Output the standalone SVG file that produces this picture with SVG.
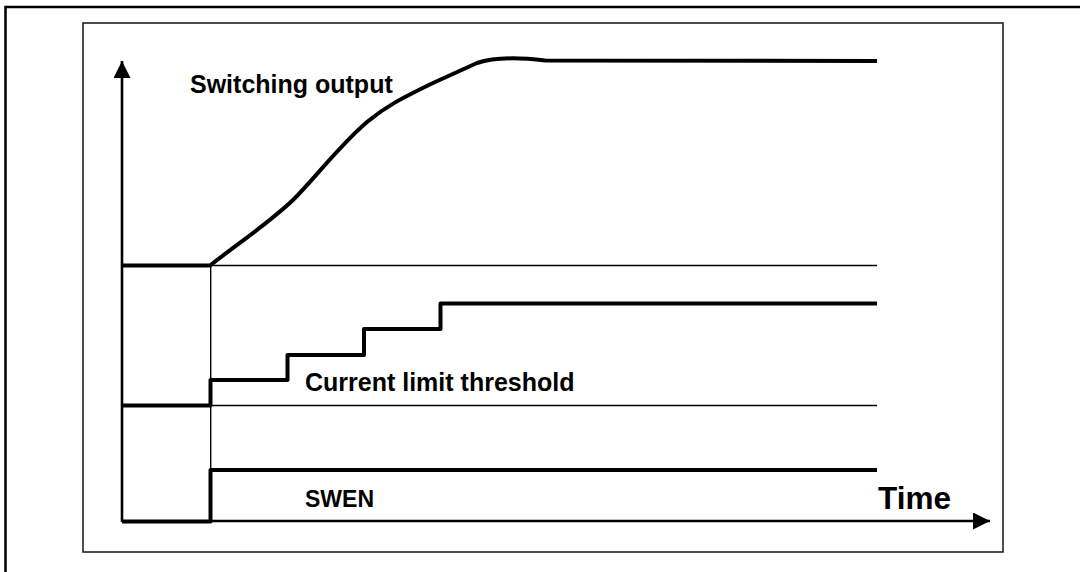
<svg xmlns="http://www.w3.org/2000/svg" width="1080" height="572" viewBox="0 0 1080 572">
<defs>
<style>
.frame{fill:none;stroke:#000;stroke-width:2.5}
.box{fill:none;stroke:#222;stroke-width:1.6}
.thin{fill:none;stroke:#000;stroke-width:1.4}
.axis{fill:none;stroke:#000;stroke-width:2.6}
.sig{fill:none;stroke:#000;stroke-width:4;stroke-linejoin:round}
.lbl{font-family:"Liberation Sans",Arial,sans-serif;font-weight:bold;font-size:25px;fill:#000}
.big{font-family:"Liberation Sans",Arial,sans-serif;font-weight:bold;font-size:31.5px;fill:#000}
</style>
<marker id="arr" viewBox="0 0 10 10" refX="10" refY="5" markerWidth="17" markerHeight="17" markerUnits="userSpaceOnUse" orient="auto">
<path d="M0,0 L10,5 L0,10 Z" fill="#000"/>
</marker>
</defs>
<rect width="1080" height="572" fill="#fff"/>
<g id="frame">
<path class="frame" d="M5.5,572 L5.5,7 L1080,7"/>
<rect class="box" x="83" y="23" width="920" height="529"/>
</g>
<g id="connectors">
<line id="y-axis" class="axis" x1="122" y1="522" x2="122" y2="61" marker-end="url(#arr)"/>
<line id="x-axis" class="axis" x1="210" y1="521" x2="990" y2="521" marker-end="url(#arr)"/>
<line class="thin" x1="210" y1="265.5" x2="877" y2="265.5"/>
<line class="thin" x1="210" y1="405.5" x2="877" y2="405.5"/>
<line class="thin" x1="210.7" y1="265" x2="210.7" y2="521"/>
</g>
<g id="switching-output">
<path class="sig" d="M122,265.5 L210,265.5 C240,242 270,222 293,200 C315,178 340,145 367,122 C385,107 400,99 433,83 L477,63 C495,57 520,57.5 545,60.5 L877,61"/>
<text class="lbl" x="190" y="93">Switching output</text>
</g>
<g id="current-limit">
<path class="sig" d="M122,405.5 L210.5,405.5 L210.5,380 L287.5,380 L287.5,355 L364,355 L364,329 L440.5,329 L440.5,303.5 L877,303.5"/>
<text class="lbl" x="305" y="391">Current limit threshold</text>
</g>
<g id="swen">
<path class="sig" d="M122,521.5 L210.5,521.5 L210.5,470 L877,470"/>
<text class="lbl" x="305" y="507" style="font-size:23px">SWEN</text>
</g>
<g id="time-label">
<text class="big" x="878" y="509">Time</text>
</g>
</svg>
